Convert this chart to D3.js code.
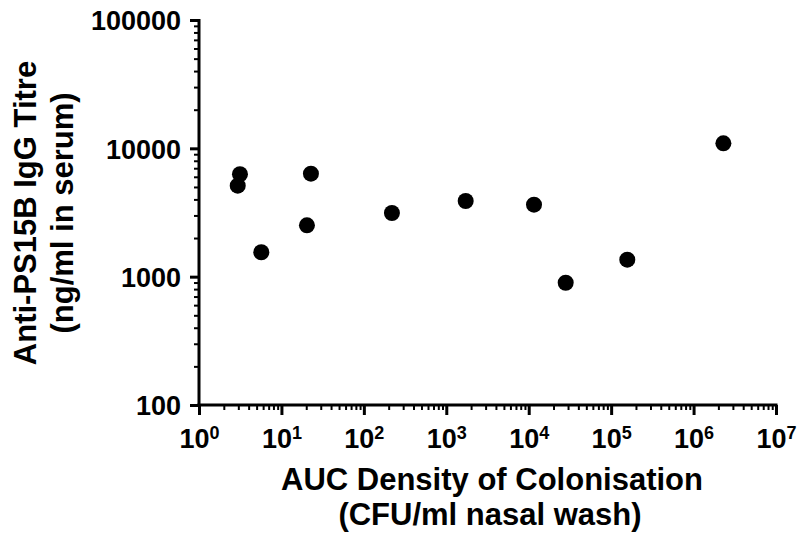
<!DOCTYPE html>
<html>
<head>
<meta charset="utf-8">
<script src="https://cdn.jsdelivr.net/npm/d3@7"></script>
<style>
  html, body { margin: 0; padding: 0; background: #fff; }
  svg { display: block; }
  text { font-family: "Liberation Sans", Arial, sans-serif; font-weight: bold; fill: #000; }
</style>
</head>
<body>
<svg id="chart" width="800" height="533"></svg>
<script>
// Data (AUC density vs anti-PS15B IgG titre)
const aucDensity = [3.14, 2.95, 5.70, 20.4, 22.8, 219, 1719, 11590, 28100, 157000, 2300000];
const iggTitre   = [6280, 5117, 1549, 2513, 6343, 3133, 3888, 3638, 897, 1356, 10940];
const xTickExponents = [0, 1, 2, 3, 4, 5, 6, 7];
const yTickLabels = ["100", "1000", "10000", "100000"];
const xTitle = ["AUC Density of Colonisation", "(CFU/ml nasal wash)"];
const yTitle = ["Anti-PS15B IgG Titre", "(ng/ml in serum)"];

const svg = d3.select("#chart");
const mLeft = 199, mRight = 776, mTop = 20, mBottom = 405;

const x = d3.scaleLog().domain([1, 1e7]).range([mLeft, mRight]);
const y = d3.scaleLog().domain([100, 100000]).range([mBottom, mTop]);

// minor tick values
const xMinor = [], yMinor = [];
for (let e = 0; e < 7; e++) for (let m = 2; m <= 9; m++) xMinor.push(m * Math.pow(10, e));
for (let e = 2; e < 5; e++) for (let m = 2; m <= 9; m++) yMinor.push(m * Math.pow(10, e));
const xMajor = xTickExponents.map(e => Math.pow(10, e));
const yMajor = yTickLabels.map(Number);

// Y axis: minor ticks
const yMinorG = svg.append("g").attr("transform", `translate(${mLeft},0)`)
  .call(d3.axisLeft(y).tickValues(yMinor).tickSize(5).tickFormat(""));
yMinorG.selectAll(".tick line").attr("stroke", "#000").attr("stroke-width", 2);
yMinorG.select(".domain").remove();

// Y axis: major ticks + labels
const yMajorG = svg.append("g").attr("transform", `translate(${mLeft},0)`)
  .call(d3.axisLeft(y).tickValues(yMajor).tickSize(9).tickPadding(9)
        .tickFormat((d, i) => yTickLabels[i]));
yMajorG.select(".domain").remove();
yMajorG.selectAll(".tick line").attr("stroke", "#000").attr("stroke-width", 3);
yMajorG.selectAll(".tick text").style("font-size", "27px").attr("dy", "0.36em");

// X axis: minor ticks
const xMinorG = svg.append("g").attr("transform", `translate(0,${mBottom})`)
  .call(d3.axisBottom(x).tickValues(xMinor).tickSize(5).tickFormat(""));
xMinorG.selectAll(".tick line").attr("stroke", "#000").attr("stroke-width", 2);
xMinorG.select(".domain").remove();

// X axis: major ticks + labels with superscripts
const xMajorG = svg.append("g").attr("transform", `translate(0,${mBottom})`)
  .call(d3.axisBottom(x).tickValues(xMajor).tickSize(10).tickFormat(""));
xMajorG.select(".domain").remove();
xMajorG.selectAll(".tick line").attr("stroke", "#000").attr("stroke-width", 3);
xMajorG.selectAll(".tick").each(function(d, i) {
  const t = d3.select(this).append("text")
    .attr("y", 43).attr("text-anchor", "middle").style("font-size", "27px");
  t.append("tspan").text("10");
  t.append("tspan").attr("dy", -9).style("font-size", "18px").text(String(xTickExponents[i]));
});

// Axis lines
svg.append("line").attr("x1", mLeft).attr("x2", mLeft).attr("y1", mTop - 1).attr("y2", mBottom + 1.5)
  .attr("stroke", "#000").attr("stroke-width", 3);
svg.append("line").attr("x1", mLeft - 1.5).attr("x2", mRight + 1.5).attr("y1", mBottom).attr("y2", mBottom)
  .attr("stroke", "#000").attr("stroke-width", 3);

// Points
svg.append("g").selectAll("circle")
  .data(aucDensity.map((v, i) => [v, iggTitre[i]]))
  .join("circle")
  .attr("cx", d => x(d[0]))
  .attr("cy", d => y(d[1]))
  .attr("r", 8)
  .attr("fill", "#000");

// X title
const xt = svg.append("text").attr("text-anchor", "middle").style("font-size", "31px");
xt.append("tspan").attr("x", 492).attr("y", 490).text(xTitle[0]);
xt.append("tspan").attr("x", 490).attr("y", 525).text(xTitle[1]);

// Y title
const yt = svg.append("text").attr("text-anchor", "middle").style("font-size", "31px")
  .attr("transform", "rotate(-90)");
yt.append("tspan").attr("x", -213).attr("y", 36).text(yTitle[0]);
yt.append("tspan").attr("x", -213).attr("y", 73).text(yTitle[1]);
</script>
</body>
</html>
